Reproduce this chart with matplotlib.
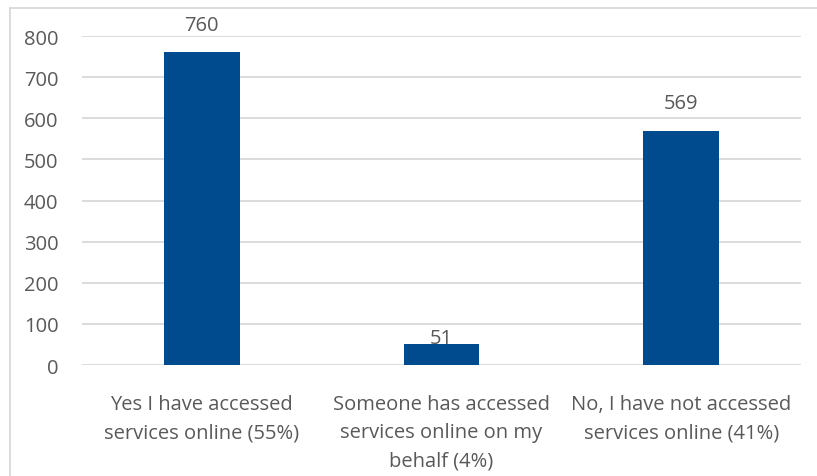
import matplotlib
matplotlib.use("Agg")
import matplotlib.pyplot as plt
from matplotlib.lines import Line2D

# data
categories = ["Yes I have accessed\nservices online (55%)",
              "Someone has accessed\nservices online on my\nbehalf (4%)",
              "No, I have not accessed\nservices online (41%)"]
counts = [760, 51, 569]
yticks = [0, 100, 200, 300, 400, 500, 600, 700, 800]

bar_col = "#004B8D"
txt_col = "#595959"
grid_col = "#D9D9D9"

plt.rcParams['font.family'] = ['Open Sans', 'DejaVu Sans']

fig = plt.figure(figsize=(8.17, 4.77), dpi=100)
ax = fig.add_axes([0.1004, 0.2327, 0.88, 0.6897])

x = range(len(counts))
ax.bar(x, counts, width=0.317, color=bar_col, zorder=3)
ax.set_xlim(-0.5, 2.5)
ax.set_ylim(0, 800)
ax.set_yticks(yticks)
ax.set_xticks(list(x))
ax.set_xticklabels(categories, fontsize=14.5, color=txt_col, linespacing=1.55)
ax.tick_params(axis='y', labelsize=14.5, labelcolor=txt_col, length=0, pad=17)
ax.tick_params(axis='x', length=0, pad=21)
ax.grid(axis='y', color=grid_col, linewidth=1.3, zorder=0)
for s in ax.spines.values():
    s.set_visible(False)

# value labels (the 51 label sits on the bar in the original)
offs = {1: 4}
for i, v in enumerate(counts):
    ax.annotate(str(v), (i, v), xytext=(0, offs.get(i, 20)),
                textcoords='offset points', ha='center', va='center',
                fontsize=14.5, color=txt_col, annotation_clip=False)

# chart frame (only left and top edges visible)
fig.add_artist(Line2D([10/817, 10/817], [0, 1 - 9/477], color=grid_col, lw=1.3))
fig.add_artist(Line2D([10/817, 1], [1 - 9/477, 1 - 9/477], color=grid_col, lw=1.3))

fig.savefig("out.png", dpi=100, facecolor="white")
